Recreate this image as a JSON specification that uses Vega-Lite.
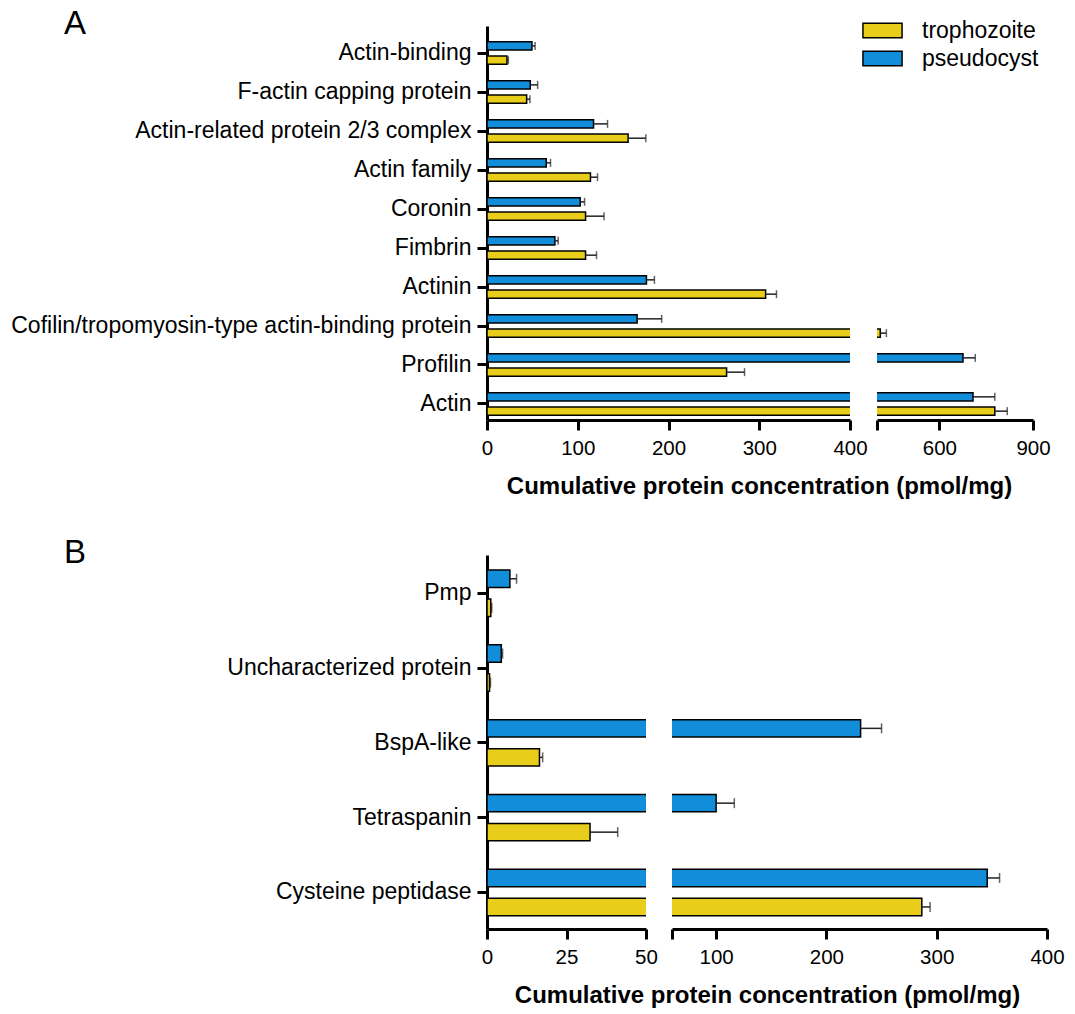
{
  "$schema": "https://vega.github.io/schema/vega-lite/v6.json",
  "padding": {"left": 10, "top": 8, "right": 5, "bottom": 5},
  "background": "white",
  "config": {
    "font": "Liberation Sans",
    "view": {"stroke": null},
    "axis": {"domainColor": "black", "domainWidth": 3, "tickColor": "black", "tickWidth": 3, "tickSize": 10, "labelColor": "black", "labelFontSize": 20.5, "labelFont": "Liberation Sans", "titleColor": "black", "titleFont": "Liberation Sans", "grid": false, "labelFlush": false, "labelOverlap": false},
    "title": {"font": "Liberation Sans", "color": "black", "fontWeight": "normal"},
    "legend": {"orient": "none", "legendX": 384, "legendY": -7, "symbolType": "M-2.7,-1L2.7,-1L2.7,1L-2.7,1Z", "symbolSize": 210, "symbolStrokeColor": "black", "symbolStrokeWidth": 1.5, "symbolOpacity": 1, "labelFontSize": 23, "labelFont": "Liberation Sans", "labelColor": "black", "labelOffset": 28, "rowPadding": 4, "padding": 0}
  },
  "datasets": {
    "A": [
      {"protein": "Actin-binding", "stage": "pseudocyst", "value": 49.5, "upper": 53},
      {"protein": "Actin-binding", "stage": "trophozoite", "value": 22, "upper": 23.5},
      {"protein": "F-actin capping protein", "stage": "pseudocyst", "value": 47.7, "upper": 55.8},
      {"protein": "F-actin capping protein", "stage": "trophozoite", "value": 43.7, "upper": 47.3},
      {"protein": "Actin-related protein 2/3 complex", "stage": "pseudocyst", "value": 117.4, "upper": 132.8},
      {"protein": "Actin-related protein 2/3 complex", "stage": "trophozoite", "value": 155.5, "upper": 175},
      {"protein": "Actin family", "stage": "pseudocyst", "value": 65.3, "upper": 70},
      {"protein": "Actin family", "stage": "trophozoite", "value": 114, "upper": 121.8},
      {"protein": "Coronin", "stage": "pseudocyst", "value": 102.7, "upper": 107.5},
      {"protein": "Coronin", "stage": "trophozoite", "value": 108.6, "upper": 129},
      {"protein": "Fimbrin", "stage": "pseudocyst", "value": 74.8, "upper": 78.4},
      {"protein": "Fimbrin", "stage": "trophozoite", "value": 108.6, "upper": 120.7},
      {"protein": "Actinin", "stage": "pseudocyst", "value": 175.7, "upper": 184.5},
      {"protein": "Actinin", "stage": "trophozoite", "value": 307, "upper": 319},
      {"protein": "Cofilin/tropomyosin-type actin-binding protein", "stage": "pseudocyst", "value": 165.4, "upper": 192.5},
      {"protein": "Cofilin/tropomyosin-type actin-binding protein", "stage": "trophozoite", "value": 410.6, "upper": 430},
      {"protein": "Profilin", "stage": "pseudocyst", "value": 675.6, "upper": 715},
      {"protein": "Profilin", "stage": "trophozoite", "value": 264, "upper": 283.8},
      {"protein": "Actin", "stage": "pseudocyst", "value": 707.7, "upper": 777.6},
      {"protein": "Actin", "stage": "trophozoite", "value": 777.6, "upper": 817.5}
    ],
    "B": [
      {"protein": "Pmp", "stage": "pseudocyst", "value": 7.2, "upper": 9.3},
      {"protein": "Pmp", "stage": "trophozoite", "value": 1.2, "upper": 1.5},
      {"protein": "Uncharacterized protein", "stage": "pseudocyst", "value": 4.5, "upper": 4.9},
      {"protein": "Uncharacterized protein", "stage": "trophozoite", "value": 0.8, "upper": 1.1},
      {"protein": "BspA-like", "stage": "pseudocyst", "value": 231, "upper": 250},
      {"protein": "BspA-like", "stage": "trophozoite", "value": 16.5, "upper": 17.5},
      {"protein": "Tetraspanin", "stage": "pseudocyst", "value": 100, "upper": 116.5},
      {"protein": "Tetraspanin", "stage": "trophozoite", "value": 32.4, "upper": 41.1},
      {"protein": "Cysteine peptidase", "stage": "pseudocyst", "value": 345.8, "upper": 357},
      {"protein": "Cysteine peptidase", "stage": "trophozoite", "value": 286.5, "upper": 294}
    ]
  },
  "vconcat": [
    {
      "hconcat": [
        {
          "width": 363, "height": 394,
          "data": {"name": "A"},
          "title": {"text": "A", "anchor": "start", "frame": "group", "fontSize": 33, "baseline": "alphabetic", "dx": -423, "dy": 45},
          "encoding": {
            "y": {"field": "protein", "type": "nominal", "sort": ["Actin-binding", "F-actin capping protein", "Actin-related protein 2/3 complex", "Actin family", "Coronin", "Fimbrin", "Actinin", "Cofilin/tropomyosin-type actin-binding protein", "Profilin", "Actin"], "scale": {"paddingInner": 0.42, "paddingOuter": 0.262, "align": 0.77}, "axis": {"title": null, "labelFontSize": 23, "labelPadding": 6, "labelLimit": 0}},
            "yOffset": {"field": "stage", "sort": ["pseudocyst", "trophozoite"], "scale": {"paddingInner": 0.42}}
          },
          "layer": [
            {"mark": {"type": "bar", "clip": true, "stroke": "black", "strokeWidth": 1.5},
             "encoding": {
               "x": {"field": "value", "type": "quantitative", "scale": {"domain": [0, 400], "nice": false}, "axis": {"values": [0, 100, 200, 300, 400], "title": "Cumulative protein concentration (pmol/mg)", "titleFontSize": 24, "titleFontWeight": "bold", "titleX": 272, "titleAlign": "center", "titlePadding": 16, "labelPadding": 8}},
               "color": {"field": "stage", "type": "nominal", "scale": {"domain": ["trophozoite", "pseudocyst"], "range": ["#E8CD1B", "#118DDA"]}, "legend": {"title": null}}
             }},
            {"mark": {"type": "rule", "clip": true, "color": "#222222", "strokeWidth": 1.5},
             "encoding": {"x": {"field": "value", "type": "quantitative"}, "x2": {"field": "upper"}}},
            {"mark": {"type": "tick", "clip": true, "orient": "vertical", "color": "#222222", "thickness": 1.5, "size": 8},
             "encoding": {"x": {"field": "upper", "type": "quantitative"}}}
          ]
        },
        {
          "width": 156, "height": 394,
          "data": {"name": "A"},
          "encoding": {
            "y": {"field": "protein", "type": "nominal", "sort": ["Actin-binding", "F-actin capping protein", "Actin-related protein 2/3 complex", "Actin family", "Coronin", "Fimbrin", "Actinin", "Cofilin/tropomyosin-type actin-binding protein", "Profilin", "Actin"], "scale": {"paddingInner": 0.42, "paddingOuter": 0.262, "align": 0.77}, "axis": null},
            "yOffset": {"field": "stage", "sort": ["pseudocyst", "trophozoite"], "scale": {"paddingInner": 0.42}}
          },
          "layer": [
            {"mark": {"type": "bar", "clip": true, "stroke": "black", "strokeWidth": 1.5},
             "encoding": {
               "x": {"field": "value", "type": "quantitative", "scale": {"domain": [400, 900], "nice": false, "zero": false}, "axis": {"values": [400, 600, 900], "labelExpr": "datum.value == 400 ? '' : datum.label", "title": null, "labelPadding": 8}},
               "color": {"field": "stage", "type": "nominal", "scale": {"domain": ["trophozoite", "pseudocyst"], "range": ["#E8CD1B", "#118DDA"]}, "legend": {"title": null}}
             }},
            {"mark": {"type": "rule", "clip": true, "color": "#222222", "strokeWidth": 1.5},
             "encoding": {"x": {"field": "value", "type": "quantitative"}, "x2": {"field": "upper"}}},
            {"mark": {"type": "tick", "clip": true, "orient": "vertical", "color": "#222222", "thickness": 1.5, "size": 8},
             "encoding": {"x": {"field": "upper", "type": "quantitative"}}}
          ]
        }
      ],
      "spacing": 27,
      "bounds": "flush",
      "resolve": {"scale": {"x": "independent", "y": "independent"}}
    },
    {
      "hconcat": [
        {
          "width": 159, "height": 374,
          "data": {"name": "B"},
          "title": {"text": "B", "anchor": "start", "frame": "group", "fontSize": 33, "baseline": "alphabetic", "dx": -423, "dy": 45},
          "encoding": {
            "y": {"field": "protein", "type": "nominal", "sort": ["Pmp", "Uncharacterized protein", "BspA-like", "Tetraspanin", "Cysteine peptidase"], "scale": {"paddingInner": 0.38, "paddingOuter": 0.19, "align": 0.53}, "axis": {"title": null, "labelFontSize": 23, "labelPadding": 6, "labelLimit": 0}},
            "yOffset": {"field": "stage", "sort": ["pseudocyst", "trophozoite"], "scale": {"paddingInner": 0.4}}
          },
          "layer": [
            {"mark": {"type": "bar", "clip": true, "stroke": "black", "strokeWidth": 1.5},
             "encoding": {
               "x": {"field": "value", "type": "quantitative", "scale": {"domain": [0, 50], "nice": false}, "axis": {"values": [0, 25, 50], "title": "Cumulative protein concentration (pmol/mg)", "titleFontSize": 24, "titleFontWeight": "bold", "titleX": 280, "titleAlign": "center", "titlePadding": 16, "labelPadding": 8}},
               "color": {"field": "stage", "type": "nominal", "scale": {"domain": ["trophozoite", "pseudocyst"], "range": ["#E8CD1B", "#118DDA"]}, "legend": {"title": null}}
             }},
            {"mark": {"type": "rule", "clip": true, "color": "#222222", "strokeWidth": 1.5},
             "encoding": {"x": {"field": "value", "type": "quantitative"}, "x2": {"field": "upper"}}},
            {"mark": {"type": "tick", "clip": true, "orient": "vertical", "color": "#222222", "thickness": 1.5, "size": 10},
             "encoding": {"x": {"field": "upper", "type": "quantitative"}}}
          ]
        },
        {
          "width": 375, "height": 374,
          "data": {"name": "B"},
          "encoding": {
            "y": {"field": "protein", "type": "nominal", "sort": ["Pmp", "Uncharacterized protein", "BspA-like", "Tetraspanin", "Cysteine peptidase"], "scale": {"paddingInner": 0.38, "paddingOuter": 0.19, "align": 0.53}, "axis": null},
            "yOffset": {"field": "stage", "sort": ["pseudocyst", "trophozoite"], "scale": {"paddingInner": 0.4}}
          },
          "layer": [
            {"mark": {"type": "bar", "clip": true, "stroke": "black", "strokeWidth": 1.5},
             "encoding": {
               "x": {"field": "value", "type": "quantitative", "scale": {"domain": [60, 400], "nice": false, "zero": false}, "axis": {"values": [60, 100, 200, 300, 400], "labelExpr": "datum.value == 60 ? '' : datum.label", "title": null, "labelPadding": 8}},
               "color": {"field": "stage", "type": "nominal", "scale": {"domain": ["trophozoite", "pseudocyst"], "range": ["#E8CD1B", "#118DDA"]}, "legend": {"title": null}}
             }},
            {"mark": {"type": "rule", "clip": true, "color": "#222222", "strokeWidth": 1.5},
             "encoding": {"x": {"field": "value", "type": "quantitative"}, "x2": {"field": "upper"}}},
            {"mark": {"type": "tick", "clip": true, "orient": "vertical", "color": "#222222", "thickness": 1.5, "size": 10},
             "encoding": {"x": {"field": "upper", "type": "quantitative"}}}
          ]
        }
      ],
      "spacing": 26,
      "bounds": "flush",
      "resolve": {"scale": {"x": "independent", "y": "independent"}}
    }
  ],
  "spacing": 38,
  "resolve": {"scale": {"x": "independent", "y": "independent", "yOffset": "independent"}}
}
